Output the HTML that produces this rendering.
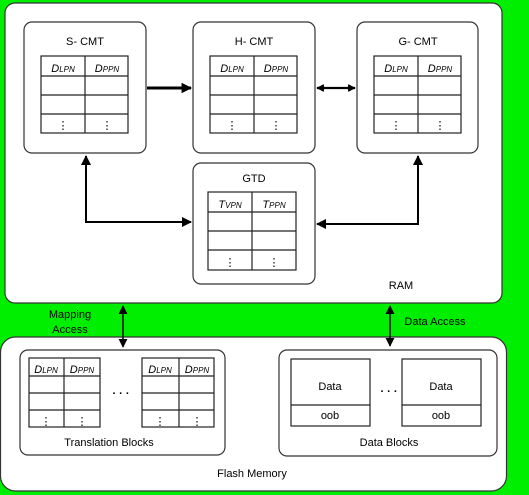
<!DOCTYPE html>
<html><head><style>
body{margin:0;background:#00ee00;width:529px;height:495px;overflow:hidden}
svg{display:block}
text{font-family:"Liberation Sans",sans-serif;font-size:11px;fill:#000}
.b{fill:#fff;stroke:#333;stroke-width:1.2}
.t{fill:none;stroke:#222;stroke-width:1.2}
</style></head><body>
<svg width="529" height="495" xmlns="http://www.w3.org/2000/svg">
<defs>
<marker id="a" viewBox="0 0 10 10" refX="9" refY="5" markerWidth="5" markerHeight="5" orient="auto-start-reverse"><path d="M0,0L10,5L0,10z" fill="#000"/></marker>
<marker id="m" viewBox="0 0 10 10" refX="9" refY="5" markerWidth="6" markerHeight="6" orient="auto-start-reverse"><path d="M0,0L10,5L0,10z" fill="#000"/></marker>
<marker id="s" viewBox="0 0 10 10" refX="9" refY="5" markerWidth="3.5" markerHeight="3.5" orient="auto-start-reverse"><path d="M0,0L10,5L0,10z" fill="#000"/></marker>
</defs>
<rect class="b" x="5" y="3" width="497" height="300" rx="10"/>
<rect class="b" x="0.5" y="337" width="506" height="154" rx="15"/>
<rect class="b" x="24" y="22" width="122" height="131" rx="8"/>
<rect class="b" x="193" y="22" width="122" height="131" rx="8"/>
<rect class="b" x="357" y="22" width="121" height="131" rx="8"/>
<rect class="b" x="193" y="163" width="122" height="121" rx="8"/>
<text x="85" y="45" text-anchor="middle">S- CMT</text>
<text x="254" y="45" text-anchor="middle">H- CMT</text>
<text x="418" y="45" text-anchor="middle">G- CMT</text>
<text x="254" y="182" text-anchor="middle">GTD</text>
<g class="t">
<rect x="41" y="56" width="87" height="77"/><path d="M85 56V133M41 76H128M41 95H128M41 114H128"/>
<rect x="210" y="56" width="87" height="77"/><path d="M254 56V133M210 76H297M210 95H297M210 114H297"/>
<rect x="374" y="56" width="87" height="77"/><path d="M418 56V133M374 76H461M374 95H461M374 114H461"/>
<rect x="208" y="192" width="88" height="78"/><path d="M252 192V270M208 212H296M208 231H296M208 250H296"/>
</g>
<text x="63" y="72" text-anchor="middle" font-style="italic">D<tspan font-size="8">LPN</tspan></text>
<text x="107" y="72" text-anchor="middle" font-style="italic">D<tspan font-size="8">PPN</tspan></text>
<text x="232" y="72" text-anchor="middle" font-style="italic">D<tspan font-size="8">LPN</tspan></text>
<text x="276" y="72" text-anchor="middle" font-style="italic">D<tspan font-size="8">PPN</tspan></text>
<text x="396" y="72" text-anchor="middle" font-style="italic">D<tspan font-size="8">LPN</tspan></text>
<text x="440" y="72" text-anchor="middle" font-style="italic">D<tspan font-size="8">PPN</tspan></text>
<text x="230" y="208" text-anchor="middle" font-style="italic">T<tspan font-size="8">VPN</tspan></text>
<text x="274" y="208" text-anchor="middle" font-style="italic">T<tspan font-size="8">PPN</tspan></text>
<g font-size="11">
<text x="63" y="129" text-anchor="middle">⋮</text><text x="107" y="129" text-anchor="middle">⋮</text>
<text x="232" y="129" text-anchor="middle">⋮</text><text x="276" y="129" text-anchor="middle">⋮</text>
<text x="396" y="129" text-anchor="middle">⋮</text><text x="440" y="129" text-anchor="middle">⋮</text>
<text x="230" y="266" text-anchor="middle">⋮</text><text x="274" y="266" text-anchor="middle">⋮</text>
</g>
<path d="M147 88H191" stroke="#000" stroke-width="3" marker-end="url(#s)" fill="none"/>
<path d="M317 88H355" stroke="#000" stroke-width="2.2" marker-start="url(#s)" marker-end="url(#s)" fill="none"/>
<path d="M86 156V222H191" stroke="#000" stroke-width="2" marker-start="url(#a)" marker-end="url(#a)" fill="none"/>
<path d="M418 156V224H317" stroke="#000" stroke-width="2" marker-start="url(#a)" marker-end="url(#a)" fill="none"/>
<text x="401" y="289" text-anchor="middle">RAM</text>
<path d="M123 306V347" stroke="#000" stroke-width="1.5" marker-start="url(#m)" marker-end="url(#m)" fill="none"/>
<path d="M390 306V346" stroke="#000" stroke-width="1.5" marker-start="url(#m)" marker-end="url(#m)" fill="none"/>
<text x="70" y="318" text-anchor="middle">Mapping</text>
<text x="70" y="333" text-anchor="middle">Access</text>
<text x="435" y="325" text-anchor="middle">Data Access</text>
<rect class="b" x="20" y="350" width="205" height="105" rx="8"/>
<rect class="b" x="279" y="350" width="218" height="106" rx="8"/>
<g class="t">
<rect x="29" y="358" width="71" height="69"/><path d="M64 358V427M29 376H100M29 393H100M29 410H100"/>
<rect x="142" y="358" width="72" height="69"/><path d="M179 358V427M142 376H214M142 393H214M142 410H214"/>
<rect x="291" y="359" width="79" height="67"/><path d="M291 405H370"/>
<rect x="402" y="359" width="79" height="67"/><path d="M402 405H481"/>
</g>
<text x="46" y="373" text-anchor="middle" font-style="italic">D<tspan font-size="8">LPN</tspan></text>
<text x="82" y="373" text-anchor="middle" font-style="italic">D<tspan font-size="8">PPN</tspan></text>
<text x="160" y="373" text-anchor="middle" font-style="italic">D<tspan font-size="8">LPN</tspan></text>
<text x="197" y="373" text-anchor="middle" font-style="italic">D<tspan font-size="8">PPN</tspan></text>
<g font-size="11">
<text x="46" y="425" text-anchor="middle">⋮</text><text x="82" y="425" text-anchor="middle">⋮</text>
<text x="160" y="425" text-anchor="middle">⋮</text><text x="197" y="425" text-anchor="middle">⋮</text>
</g>
<text x="121" y="397" text-anchor="middle" font-size="16" font-weight="bold">· · ·</text>
<text x="389" y="395" text-anchor="middle" font-size="16" font-weight="bold">· · ·</text>
<text x="330" y="390" text-anchor="middle">Data</text>
<text x="441" y="390" text-anchor="middle">Data</text>
<text x="330" y="419" text-anchor="middle">oob</text>
<text x="441" y="419" text-anchor="middle">oob</text>
<text x="109" y="446" text-anchor="middle">Translation Blocks</text>
<text x="389" y="446" text-anchor="middle">Data Blocks</text>
<text x="252" y="477" text-anchor="middle">Flash Memory</text>
</svg>
</body></html>
